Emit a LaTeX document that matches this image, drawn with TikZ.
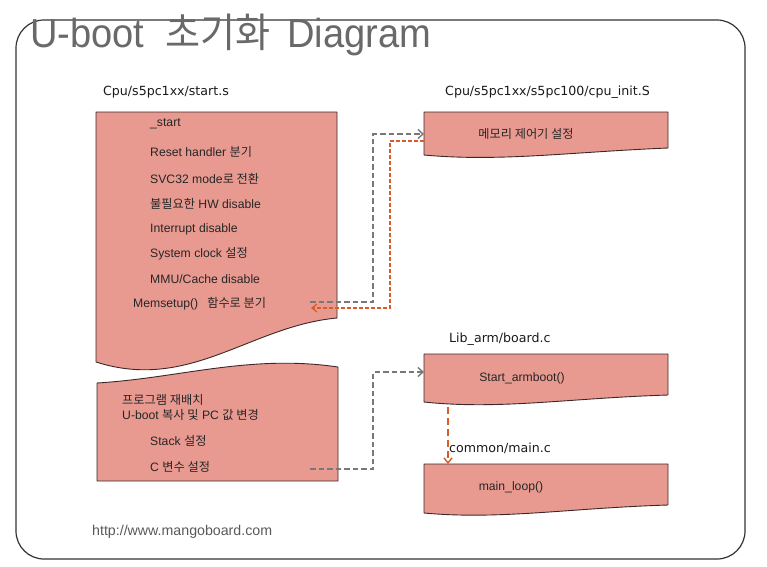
\documentclass[tikz,border=0pt]{standalone}
\usepackage{fontspec}
\setmainfont{Liberation Sans}
\newfontfamily\kr{Noto Sans CJK KR}
\newfontfamily\lbl{DejaVu Sans}
\usetikzlibrary{arrows.meta}
\definecolor{boxfill}{RGB}{232,154,145}
\definecolor{boxline}{RGB}{60,40,40}
\definecolor{graydash}{RGB}{120,120,120}
\definecolor{orgdash}{RGB}{214,92,40}
\definecolor{titlegray}{RGB}{105,105,105}
\newcommand{\K}[1]{{\kr #1}}
\tikzset{
  pinkbox/.style={fill=boxfill, draw=boxline, line width=0.9pt, line join=round},
  body/.style={anchor=west, inner sep=0pt, text=black!85, font=\fontsize{12.2}{14}\selectfont},
  bodyc/.style={body, anchor=center},
  lab/.style={anchor=west, inner sep=0pt, text=black!90, font=\lbl\fontsize{12.6}{15}\selectfont},
  graylink/.style={draw=graydash, line width=1.8pt, dash pattern=on 5.5pt off 3pt, -{Straight Barb[length=5pt,width=9pt,line width=1.4pt]}},
  orglink/.style={draw=orgdash, line width=1.2pt, dash pattern=on 4pt off 2pt, -{Straight Barb[length=5pt,width=8pt,line width=1.2pt]}},
  orgvert/.style={draw=orgdash, line width=2pt, dash pattern=on 7pt off 4pt, -{Straight Barb[length=5pt,width=8pt,line width=1.4pt]}},
}
\begin{document}
\begin{tikzpicture}[x=1pt, y=-1pt]
\useasboundingbox (0,0) rectangle (767,566);
% frame
\draw[draw=black!80, line width=1.2pt, rounded corners=28pt] (16,20) rectangle (745,559);
% title
\node[anchor=base west, inner sep=0pt, text=titlegray, font=\fontsize{40.5}{44}\selectfont, xscale=0.94] (title) at (30,47)
  {U-boot\hspace{22pt}\K{초기화}\hspace{18pt}Diagram};

% left top box (start.s)
\path[pinkbox] (96,112) -- (337,112) -- (337,318)
  .. controls (250,326) and (190,392) .. (96,362) -- cycle;
% left bottom box
\path[pinkbox] (97,383) .. controls (180,378) and (250,354) .. (338,367)
  -- (338,481) -- (97,481) -- cycle;
% right boxes
\path[pinkbox] (424,112) -- (668,112) -- (668,148)
  .. controls (570,152) and (500,162) .. (424,155) -- cycle;
\path[pinkbox] (424,354) -- (668,354) -- (668,395)
  .. controls (570,398) and (500,410) .. (424,402) -- cycle;
\path[pinkbox] (424,464) -- (668,464) -- (668,505)
  .. controls (570,508) and (500,520) .. (424,513) -- cycle;

% labels
\node[lab] (lstart) at (103,92) {Cpu/s5pc1xx/start.s};
\node[lab] (linit) at (445,92) {Cpu/s5pc1xx/s5pc100/cpu\_init.S};
\node[lab] (lboard) at (449,339) {Lib\_arm/board.c};
\node[lab] (lmain) at (449,448) {common/main.c};

% left box texts
\node[body] (t1) at (150,124) {\_start};
\node[body] (t2) at (150,152) {Reset handler \K{분기}};
\node[body] (t3) at (150,179) {SVC32 mode\K{로 전환}};
\node[body] (t4) at (150,204) {\K{불필요한} HW disable};
\node[body] (t5) at (150,229) {Interrupt disable};
\node[body] (t6) at (150,254) {System clock \K{설정}};
\node[body] (t7) at (150,279) {MMU/Cache disable};
\node[body] (t8) at (133,304) {Memsetup()\hspace{9pt}\K{함수로 분기}};
\node[body] (t9) at (122,400) {\K{프로그램 재배치}};
\node[body] (t10) at (122,415) {U-boot \K{복사 및} PC \K{값 변경}};
\node[body] (t11) at (150,441) {Stack \K{설정}};
\node[body] (t12) at (150,467) {C \K{변수 설정}};

% right box texts
\node[bodyc] (mem) at (526,134) {\K{메모리 제어기 설정}};
\node[bodyc] (arm) at (522,378) {Start\_armboot()};
\node[bodyc] (loop) at (511,487) {main\_loop()};

% url
\node[anchor=west, inner sep=0pt, text=black!65, font=\fontsize{14.2}{16}\selectfont] (url) at (92,532) {http://www.mangoboard.com};

% connector endpoints
\coordinate (memcallout) at (310,302);
\coordinate (memin) at (424,134);
\coordinate (memout) at (424,141);
\coordinate (memret) at (311,308);
\coordinate (cvarout) at (310,469);
\coordinate (armin) at (424,372);
\coordinate (armout) at (448,407);
\coordinate (loopin) at (448,464);

\draw[graylink] (memcallout) -- (373,302) -- (373,134) -- (memin);
\draw[orglink] (memout) -- (390,141) -- (390,308) -- (memret);
\draw[graylink] (cvarout) -- (373,469) -- (373,372) -- (armin);
\draw[orgvert] (armout) -- (loopin);
\end{tikzpicture}
\end{document}
